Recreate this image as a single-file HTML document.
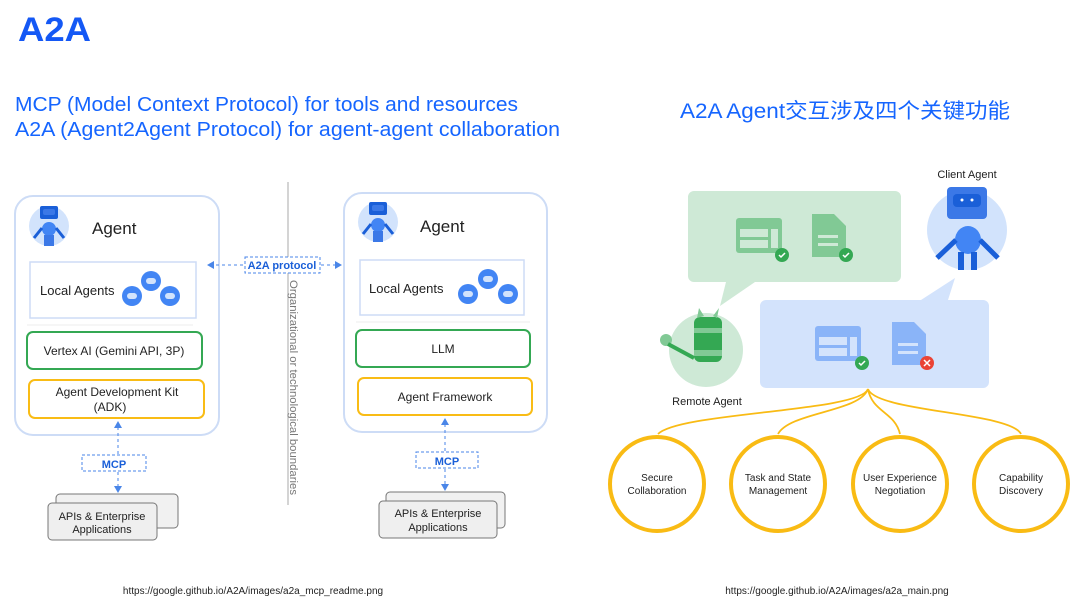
<!DOCTYPE html>
<html><head><meta charset="utf-8"><style>
html,body{margin:0;padding:0;background:#fff;}
svg{display:block;font-family:"Liberation Sans","Noto Sans CJK SC",sans-serif;}
</style></head><body>
<svg width="1080" height="602" viewBox="0 0 1080 602" xmlns="http://www.w3.org/2000/svg">
<defs>
<marker id="ah" markerWidth="8" markerHeight="8" refX="6" refY="4" orient="auto" markerUnits="userSpaceOnUse"><path d="M0,0 L7,4 L0,8 Z" fill="#4a86e8"/></marker>
<g id="robot">
 <circle cx="0" cy="0" r="20" fill="#d2e3fc"/>
 <rect x="-9" y="-20" width="18" height="13" rx="2" fill="#1a5fd8"/>
 <rect x="-6" y="-17" width="12" height="6" rx="2" fill="#3b78e7"/>
 <circle cx="0" cy="3" r="7" fill="#4285f4"/>
 <path d="M-7,2 L-15,12 M7,2 L15,12" stroke="#1a5fd8" stroke-width="3"/>
 <rect x="-5" y="9" width="10" height="11" fill="#3b78e7"/>
</g>
<g id="mini"><circle r="10" fill="#4285f4"/><rect x="-5" y="-3" width="10" height="6" rx="3" fill="#d2e3fc"/></g>
</defs>

<text x="18" y="41" font-size="34" font-weight="bold" fill="#1458f5" textLength="73" lengthAdjust="spacingAndGlyphs">A2A</text>
<text x="15" y="111" font-size="20" fill="#1565ff" textLength="503" lengthAdjust="spacingAndGlyphs">MCP (Model Context Protocol) for tools and resources</text>
<text x="15" y="136" font-size="20" fill="#1565ff" textLength="545" lengthAdjust="spacingAndGlyphs">A2A (Agent2Agent Protocol) for agent-agent collaboration</text>
<text x="845" y="118" font-size="21" fill="#1565ff" text-anchor="middle" textLength="330" lengthAdjust="spacingAndGlyphs">A2A Agent交互涉及四个关键功能</text>

<!-- left diagram -->
<rect x="15" y="196" width="204" height="239" rx="18" fill="#fff" stroke="#cddcf6" stroke-width="2"/>
<use href="#robot" x="49" y="226"/>
<text x="92" y="234" font-size="17" fill="#222">Agent</text>
<rect x="30" y="262" width="166" height="56" fill="#fff" stroke="#cddcf6" stroke-width="1.5"/>
<text x="40" y="295" font-size="13" fill="#222">Local Agents</text>
<use href="#mini" x="132" y="296"/><use href="#mini" x="151" y="281"/><use href="#mini" x="170" y="296"/>
<line x1="27" y1="325" x2="193" y2="325" stroke="#eee"/>
<rect x="27" y="332" width="175" height="37" rx="6" fill="#fff" stroke="#34a853" stroke-width="2"/>
<text x="114" y="355" font-size="12" fill="#222" text-anchor="middle">Vertex AI (Gemini API, 3P)</text>
<rect x="29" y="380" width="175" height="38" rx="6" fill="#fff" stroke="#f9bc15" stroke-width="2"/>
<text x="117" y="396" font-size="12" fill="#222" text-anchor="middle">Agent Development Kit</text>
<text x="110" y="411" font-size="12" fill="#222" text-anchor="middle">(ADK)</text>
<line x1="118" y1="454" x2="118" y2="422" stroke="#4a86e8" stroke-dasharray="3,3" marker-end="url(#ah)"/>
<rect x="82" y="455" width="64" height="16" fill="#fff" stroke="#4a86e8" stroke-dasharray="3,2"/>
<text x="114" y="468" font-size="11" font-weight="bold" fill="#1a5fd8" text-anchor="middle">MCP</text>
<line x1="118" y1="472" x2="118" y2="492" stroke="#4a86e8" stroke-dasharray="3,3" marker-end="url(#ah)"/>
<rect x="56" y="494" width="122" height="34" rx="4" fill="#f1f1f1" stroke="#777"/>
<rect x="48" y="503" width="109" height="37" rx="4" fill="#efefef" stroke="#777"/>
<text x="102" y="520" font-size="11" fill="#222" text-anchor="middle">APIs &amp; Enterprise</text>
<text x="102" y="533" font-size="11" fill="#222" text-anchor="middle">Applications</text>

<line x1="288" y1="182" x2="288" y2="505" stroke="#aaa"/>
<text transform="translate(290,280) rotate(90)" font-size="11" fill="#777" textLength="215" lengthAdjust="spacingAndGlyphs">Organizational or technological boundaries</text>
<line x1="243" y1="265" x2="208" y2="265" stroke="#4a86e8" stroke-dasharray="3,3" marker-end="url(#ah)"/>
<line x1="321" y1="265" x2="341" y2="265" stroke="#4a86e8" stroke-dasharray="3,3" marker-end="url(#ah)"/>
<rect x="245" y="257" width="75" height="16" fill="#fff" stroke="#4a86e8" stroke-dasharray="3,2"/>
<text x="282" y="269" font-size="11" font-weight="bold" fill="#1a5fd8" text-anchor="middle">A2A protocol</text>

<rect x="344" y="193" width="203" height="239" rx="18" fill="#fff" stroke="#cddcf6" stroke-width="2"/>
<use href="#robot" x="378" y="222"/>
<text x="420" y="232" font-size="17" fill="#222">Agent</text>
<rect x="360" y="260" width="164" height="55" fill="#fff" stroke="#cddcf6" stroke-width="1.5"/>
<text x="369" y="293" font-size="13" fill="#222">Local Agents</text>
<use href="#mini" x="468" y="294"/><use href="#mini" x="488" y="279"/><use href="#mini" x="508" y="294"/>
<line x1="356" y1="322" x2="530" y2="322" stroke="#eee"/>
<rect x="356" y="330" width="174" height="37" rx="6" fill="#fff" stroke="#34a853" stroke-width="2"/>
<text x="443" y="353" font-size="12" fill="#222" text-anchor="middle">LLM</text>
<rect x="358" y="378" width="174" height="37" rx="6" fill="#fff" stroke="#f9bc15" stroke-width="2"/>
<text x="445" y="401" font-size="12" fill="#222" text-anchor="middle">Agent Framework</text>
<line x1="445" y1="451" x2="445" y2="419" stroke="#4a86e8" stroke-dasharray="3,3" marker-end="url(#ah)"/>
<rect x="416" y="452" width="62" height="16" fill="#fff" stroke="#4a86e8" stroke-dasharray="3,2"/>
<text x="447" y="465" font-size="11" font-weight="bold" fill="#1a5fd8" text-anchor="middle">MCP</text>
<line x1="445" y1="469" x2="445" y2="490" stroke="#4a86e8" stroke-dasharray="3,3" marker-end="url(#ah)"/>
<rect x="386" y="492" width="119" height="36" rx="4" fill="#f1f1f1" stroke="#777"/>
<rect x="379" y="501" width="118" height="37" rx="4" fill="#efefef" stroke="#777"/>
<text x="438" y="517" font-size="11" fill="#222" text-anchor="middle">APIs &amp; Enterprise</text>
<text x="438" y="531" font-size="11" fill="#222" text-anchor="middle">Applications</text>

<text x="253" y="594" font-size="10" fill="#222" text-anchor="middle">https://google.github.io/A2A/images/a2a_mcp_readme.png</text>
<text x="837" y="594" font-size="10" fill="#222" text-anchor="middle">https://google.github.io/A2A/images/a2a_main.png</text>

<!-- right diagram -->
<path d="M694,191 H895 a6,6 0 0 1 6,6 V276 a6,6 0 0 1 -6,6 H755 L720,306 L726,282 H694 a6,6 0 0 1 -6,-6 V197 a6,6 0 0 1 6,-6 Z" fill="#cee9d6"/>
<path d="M766,300 H921 L955,278 L948,300 H983 a6,6 0 0 1 6,6 V382 a6,6 0 0 1 -6,6 H766 a6,6 0 0 1 -6,-6 V306 a6,6 0 0 1 6,-6 Z" fill="#d3e3fc"/>
<!-- green icons -->
<rect x="736" y="218" width="46" height="35" rx="3" fill="#81c995"/>
<rect x="740" y="229" width="28" height="8" fill="#cee9d6"/><rect x="740" y="240" width="28" height="8" fill="#cee9d6"/><rect x="771" y="229" width="7" height="19" fill="#cee9d6"/>
<circle cx="782" cy="255" r="7" fill="#34a853"/><path d="M779,255 l2,2 l4,-4" stroke="#fff" stroke-width="1.5" fill="none"/>
<path d="M812,214 H834 L846,226 V257 H812 Z" fill="#81c995"/>
<rect x="818" y="235" width="20" height="3" fill="#cee9d6"/><rect x="818" y="243" width="20" height="3" fill="#cee9d6"/>
<circle cx="846" cy="255" r="7" fill="#34a853"/><path d="M843,255 l2,2 l4,-4" stroke="#fff" stroke-width="1.5" fill="none"/>
<!-- blue icons -->
<rect x="815" y="326" width="46" height="35" rx="3" fill="#8ab4f8"/>
<rect x="819" y="337" width="28" height="8" fill="#d3e3fc"/><rect x="819" y="348" width="28" height="8" fill="#d3e3fc"/><rect x="850" y="337" width="7" height="19" fill="#d3e3fc"/>
<circle cx="862" cy="363" r="7" fill="#34a853"/><path d="M859,363 l2,2 l4,-4" stroke="#fff" stroke-width="1.5" fill="none"/>
<path d="M892,322 H914 L926,334 V365 H892 Z" fill="#8ab4f8"/>
<rect x="898" y="343" width="20" height="3" fill="#d3e3fc"/><rect x="898" y="351" width="20" height="3" fill="#d3e3fc"/>
<circle cx="927" cy="363" r="7" fill="#ea4335"/><path d="M924,360 l6,6 M930,360 l-6,6" stroke="#fff" stroke-width="1.5"/>
<!-- client agent -->
<text x="967" y="178" font-size="11" fill="#222" text-anchor="middle">Client Agent</text>
<circle cx="967" cy="230" r="40" fill="#d2e3fc"/>
<rect x="947" y="187" width="40" height="32" rx="4" fill="#3b78e7"/>
<rect x="953" y="194" width="28" height="13" rx="4" fill="#1a5fd8"/>
<circle cx="962" cy="200" r="1.5" fill="#fff"/><circle cx="972" cy="200" r="1.5" fill="#fff"/>
<ellipse cx="968" cy="240" rx="13" ry="14" fill="#4285f4"/>
<path d="M956,240 L937,258 M980,240 L998,258" stroke="#1a5fd8" stroke-width="5"/>
<rect x="958" y="252" width="6" height="18" fill="#1a5fd8"/><rect x="971" y="252" width="6" height="18" fill="#1a5fd8"/>
<!-- remote agent -->
<circle cx="706" cy="350" r="37" fill="#cee9d6"/>
<rect x="694" y="317" width="28" height="45" rx="6" fill="#34a853"/>
<rect x="694" y="328" width="28" height="5" fill="#81c995"/><rect x="694" y="350" width="28" height="6" fill="#81c995"/>
<path d="M697,318 l2,-10 l5,8 M717,318 l2,-10 l-6,8" fill="#81c995"/>
<circle cx="666" cy="340" r="6" fill="#81c995"/><path d="M668,344 L694,358" stroke="#34a853" stroke-width="4"/>
<text x="707" y="405" font-size="11" fill="#222" text-anchor="middle">Remote Agent</text>
<!-- connectors -->
<g fill="none" stroke="#f9bb14" stroke-width="1.8">
<path d="M868,389 C860,412 680,412 658,434"/>
<path d="M868,389 C860,412 790,412 778,434"/>
<path d="M868,389 C872,412 895,412 900,434"/>
<path d="M868,389 C876,412 1010,412 1021,434"/>
</g>
<g fill="#fff" stroke="#f9bb14" stroke-width="4">
<circle cx="657" cy="484" r="47"/><circle cx="778" cy="484" r="47"/><circle cx="900" cy="484" r="47"/><circle cx="1021" cy="484" r="47"/>
</g>
<g font-size="10" fill="#222" text-anchor="middle">
<text x="657" y="481">Secure</text><text x="657" y="494">Collaboration</text>
<text x="778" y="481">Task and State</text><text x="778" y="494">Management</text>
<text x="900" y="481">User Experience</text><text x="900" y="494">Negotiation</text>
<text x="1021" y="481">Capability</text><text x="1021" y="494">Discovery</text>
</g>
</svg>
</body></html>
